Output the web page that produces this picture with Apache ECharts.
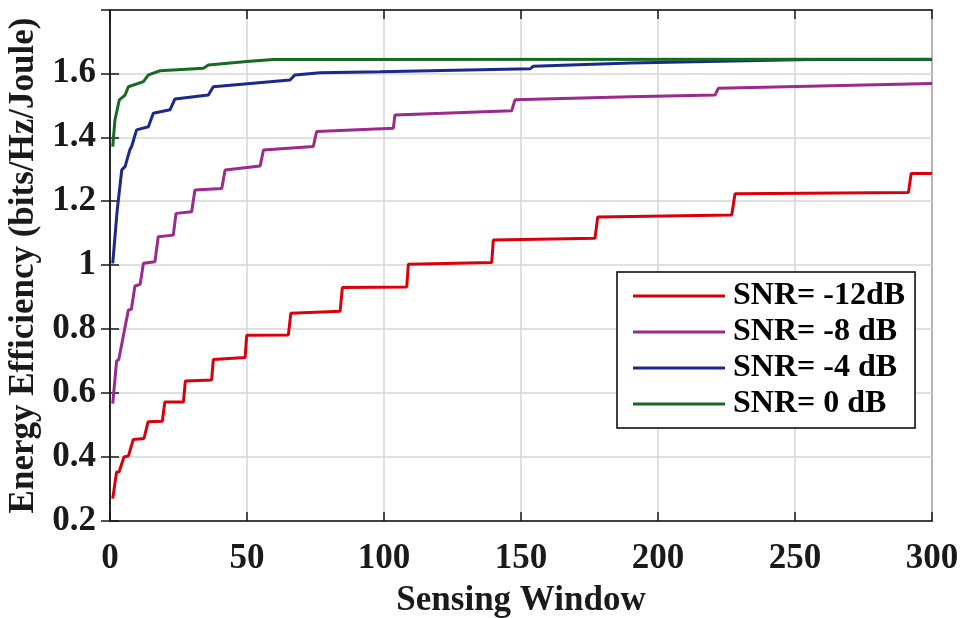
<!DOCTYPE html>
<html>
<head>
<meta charset="utf-8">
<script src="https://cdn.jsdelivr.net/npm/echarts@6/dist/echarts.min.js"></script>
<style>
  html, body { margin: 0; padding: 0; background: #fff; }
  #chart { width: 963px; height: 618px; }
</style>
</head>
<body>
<div id="chart"></div>
<script>
// Data (corner points of the stepped curves)
const legendNames = ["SNR= -12dB", "SNR= -8 dB", "SNR= -4 dB", "SNR= 0 dB"];
const colors = ["#d9000d", "#9c2a8c", "#1b2a8a", "#166b22"];

const xTicks = [0, 50, 100, 150, 200, 250, 300];
const yTicks = [0.2, 0.4, 0.6, 0.8, 1, 1.2, 1.4, 1.6];

const redX = [1, 2.4, 3.3, 5.1, 6.7, 8.5, 12.4, 13.9, 19.1, 20, 26.8, 27.5, 37.1, 37.7, 49.3, 49.9, 65.1, 66, 84, 84.8, 108.3, 108.9, 139.3, 139.9, 177, 178, 226.9, 228.1, 291.4, 292.4, 300];
const redY = [0.27, 0.353, 0.353, 0.40, 0.403, 0.455, 0.458, 0.51, 0.512, 0.572, 0.572, 0.638, 0.641, 0.705, 0.711, 0.781, 0.782, 0.850, 0.856, 0.930, 0.932, 1.003, 1.008, 1.079, 1.084, 1.151, 1.157, 1.223, 1.227, 1.287, 1.287];

const purpleX = [1, 2.4, 3.2, 4.9, 5.3, 6.7, 7.8, 9.1, 11, 12.2, 16.4, 17.6, 23.1, 24.1, 29.8, 31, 40.8, 42, 54.8, 56, 74.2, 75.4, 103.4, 104, 146.6, 147.8, 189.8, 220.8, 222, 300];
const purpleY = [0.567, 0.70, 0.705, 0.78, 0.785, 0.86, 0.862, 0.935, 0.94, 1.006, 1.011, 1.089, 1.094, 1.162, 1.167, 1.235, 1.240, 1.298, 1.310, 1.360, 1.371, 1.418, 1.428, 1.47, 1.483, 1.517, 1.527, 1.532, 1.553, 1.568];

const blueX = [1, 2.6, 4.3, 5.5, 7.2, 7.9, 9.7, 14, 15.8, 21.9, 23.7, 35.9, 37.7, 65.7, 67.5, 76.7, 98.6, 153.3, 154.5, 190, 218, 255.5, 300];
const blueY = [1.006, 1.17, 1.298, 1.308, 1.36, 1.371, 1.423, 1.433, 1.475, 1.486, 1.52, 1.532, 1.558, 1.579, 1.595, 1.602, 1.605, 1.614, 1.622, 1.632, 1.637, 1.643, 1.643];

const greenX = [1, 1.8, 3.4, 5.5, 6.7, 12.2, 14, 18.3, 34.1, 35.9, 49.9, 59.6, 300];
const greenY = [1.371, 1.454, 1.517, 1.532, 1.558, 1.574, 1.595, 1.608, 1.616, 1.626, 1.637, 1.643, 1.644];

const seriesX = [redX, purpleX, blueX, greenX];
const seriesY = [redY, purpleY, blueY, greenY];

const FONT = "'Liberation Serif', 'Times New Roman', serif";
const INK = "#1a1a1a";
const Y_MAX = 1.798;

const chart = echarts.init(document.getElementById("chart"));

function pairs(xs, ys) {
  return xs.map((x, i) => [x, ys[i]]);
}

const tickStyle = { inside: true, length: 9, lineStyle: { color: INK, width: 1.5 } };
const lineStyle = { lineStyle: { color: INK, width: 1.5 } };

const option = {
  backgroundColor: "#fff",
  animation: false,
  grid: {
    left: 110,
    right: 31,
    top: 10,
    bottom: 97,
    containLabel: false,
    outerBoundsMode: "none",
    show: true,
    borderColor: INK,
    borderWidth: 1.5,
  },
  legend: {
    orient: "vertical",
    left: 617,
    top: 272,
    icon: "rect",
    itemWidth: 92,
    itemHeight: 3,
    itemGap: 4,
    padding: [8, 10, 8, 16],
    borderColor: "#000",
    borderWidth: 1.5,
    backgroundColor: "#fff",
    data: legendNames,
    textStyle: {
      fontFamily: FONT,
      fontWeight: "bold",
      fontSize: 32,
      color: "#000",
      padding: [0, 0, 0, 3],
    },
  },
  xAxis: [
    {
      type: "value",
      min: xTicks[0],
      max: xTicks[xTicks.length - 1],
      interval: 50,
      name: "Sensing Window",
      nameLocation: "middle",
      nameGap: 62,
      nameTextStyle: { fontFamily: FONT, fontWeight: "bold", fontSize: 35, color: INK },
      axisLine: lineStyle,
      axisTick: tickStyle,
      axisLabel: { fontFamily: FONT, fontWeight: "bold", fontSize: 35, color: INK, margin: 20 },
      splitLine: { lineStyle: { color: "#d6d6d6", width: 1.5 } },
    },
    {
      type: "value",
      position: "top",
      min: xTicks[0],
      max: xTicks[xTicks.length - 1],
      interval: 50,
      axisLine: lineStyle,
      axisTick: tickStyle,
      axisLabel: { show: false },
      splitLine: { show: false },
    },
  ],
  yAxis: [
    {
      type: "value",
      min: yTicks[0],
      max: Y_MAX,
      interval: 0.2,
      name: "Energy Efficiency (bits/Hz/Joule)",
      nameLocation: "middle",
      nameGap: 66,
      nameTextStyle: { fontFamily: FONT, fontWeight: "bold", fontSize: 35, color: INK },
      axisLine: lineStyle,
      axisTick: tickStyle,
      axisLabel: {
        fontFamily: FONT,
        fontWeight: "bold",
        fontSize: 35,
        color: INK,
        margin: 14,
        showMaxLabel: false,
        formatter: (v) => (yTicks.some((t) => Math.abs(t - v) < 1e-6) ? String(+v.toFixed(1)) : ""),
      },
      splitLine: { lineStyle: { color: "#d6d6d6", width: 1.5 } },
    },
    {
      type: "value",
      position: "right",
      min: yTicks[0],
      max: Y_MAX,
      interval: 0.2,
      axisLine: lineStyle,
      axisTick: tickStyle,
      axisLabel: { show: false },
      splitLine: { show: false },
    },
  ],
  series: legendNames.map((name, i) => ({
    name: name,
    type: "line",
    symbol: "none",
    data: pairs(seriesX[i], seriesY[i]),
    itemStyle: { color: colors[i] },
    lineStyle: { color: colors[i], width: 3 },
    z: 2 + i,
  })),
};

chart.setOption(option);
</script>
</body>
</html>
